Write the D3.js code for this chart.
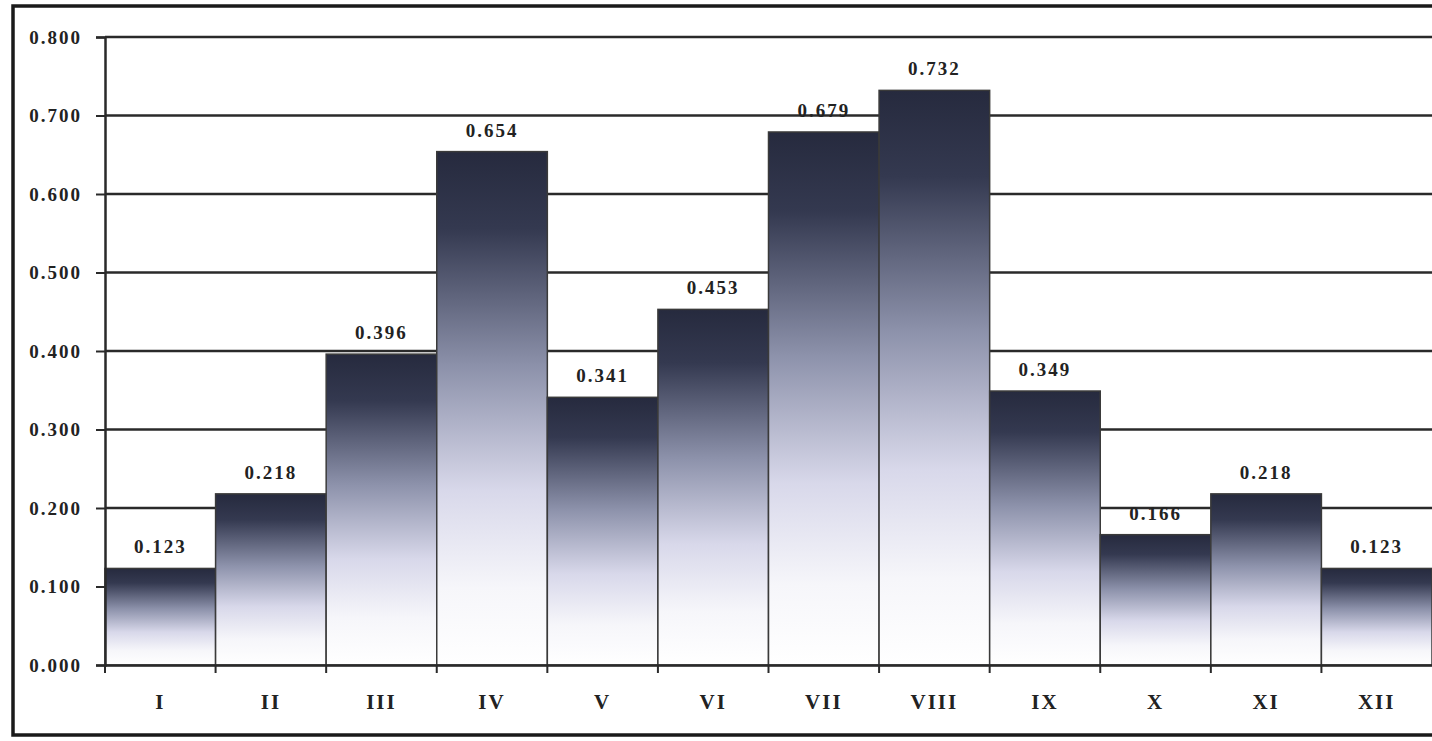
<!DOCTYPE html>
<html>
<head>
<meta charset="utf-8">
<script src="https://cdn.jsdelivr.net/npm/d3@7"></script>
<style>
  body { margin: 0; background: #fff; }
  svg text { font-family: "Liberation Serif", "Times New Roman", serif; font-weight: bold; fill: #222; }
</style>
</head>
<body>
<div id="chart"></div>
<script>
// chart data
const months = ["I", "II", "III", "IV", "V", "VI", "VII", "VIII", "IX", "X", "XI", "XII"];
const values = [0.123, 0.218, 0.396, 0.654, 0.341, 0.453, 0.679, 0.732, 0.349, 0.166, 0.218, 0.123];
const yTicks = [0, 0.1, 0.2, 0.3, 0.4, 0.5, 0.6, 0.7, 0.8];

const W = 1432, H = 741;
const margin = { top: 37, right: 0, bottom: 76, left: 105 };
const width = W - margin.left - margin.right;
const height = H - margin.top - margin.bottom;

const svg = d3.select("#chart").append("svg")
  .attr("width", W)
  .attr("height", H);

// bar gradient: dark navy top fading to white
const defs = svg.append("defs");
const grad = defs.append("linearGradient")
  .attr("id", "barGrad")
  .attr("x1", 0).attr("y1", 0).attr("x2", 0).attr("y2", 1);
grad.append("stop").attr("offset", "0%").attr("stop-color", "#262a3e");
grad.append("stop").attr("offset", "15%").attr("stop-color", "#343950");
grad.append("stop").attr("offset", "42%").attr("stop-color", "#8d92ab");
grad.append("stop").attr("offset", "66%").attr("stop-color", "#d8d8ea");
grad.append("stop").attr("offset", "85%").attr("stop-color", "#f6f6fa");
grad.append("stop").attr("offset", "100%").attr("stop-color", "#ffffff");

// outer frame
svg.append("rect")
  .attr("x", 13).attr("y", 6)
  .attr("width", W + 10).attr("height", 729)
  .attr("fill", "none")
  .attr("stroke", "#1a1a1a")
  .attr("stroke-width", 3.5);

const g = svg.append("g")
  .attr("transform", `translate(${margin.left}, ${margin.top})`);

const x = d3.scaleBand()
  .domain(months)
  .range([0, width])
  .padding(0);

const y = d3.scaleLinear()
  .domain([0, 0.8])
  .range([height, 0]);

// gridlines
g.append("g")
  .selectAll("line")
  .data(yTicks)
  .join("line")
  .attr("x1", 0).attr("x2", width)
  .attr("y1", d => y(d)).attr("y2", d => y(d))
  .attr("stroke", "#2a2a2a")
  .attr("stroke-width", 2.5);

// bars
g.append("g")
  .selectAll("rect")
  .data(values)
  .join("rect")
  .attr("x", (d, i) => x(months[i]))
  .attr("y", d => y(d))
  .attr("width", x.bandwidth())
  .attr("height", d => height - y(d))
  .attr("fill", "url(#barGrad)")
  .attr("stroke", "#3a3a3a")
  .attr("stroke-width", 1.5);

// value labels
g.append("g")
  .selectAll("text")
  .data(values)
  .join("text")
  .attr("x", (d, i) => x(months[i]) + x.bandwidth() / 2)
  .attr("y", d => y(d) - 15)
  .attr("text-anchor", "middle")
  .style("font-size", "19px")
  .style("letter-spacing", "2px")
  .text(d => d3.format(".3f")(d));

// y axis
const yAxis = g.append("g")
  .call(d3.axisLeft(y).tickValues(yTicks).tickFormat(d3.format(".3f")).tickSize(9).tickPadding(14));
yAxis.select(".domain").attr("stroke", "#2a2a2a").attr("stroke-width", 2.5);
yAxis.selectAll(".tick line").attr("stroke", "#2a2a2a").attr("stroke-width", 2);
yAxis.selectAll("text").style("font-size", "19px").attr("fill", "#222")
  .style("letter-spacing", "2px")
  .style("font-family", "'Liberation Serif', serif").style("font-weight", "bold");

// x axis
const xAxis = g.append("g")
  .attr("transform", `translate(0, ${height})`)
  .call(d3.axisBottom(x).tickSize(0).tickPadding(29));
xAxis.select(".domain").attr("stroke", "#2a2a2a").attr("stroke-width", 2.5);
xAxis.selectAll("text").style("font-size", "21px").attr("fill", "#222")
  .style("letter-spacing", "2px")
  .style("font-family", "'Liberation Serif', serif").style("font-weight", "bold");

// small ticks between categories below the axis
g.append("g")
  .selectAll("line")
  .data(months)
  .join("line")
  .attr("x1", d => x(d)).attr("x2", d => x(d))
  .attr("y1", height).attr("y2", height + 8)
  .attr("stroke", "#2a2a2a")
  .attr("stroke-width", 2);
</script>
</body>
</html>
